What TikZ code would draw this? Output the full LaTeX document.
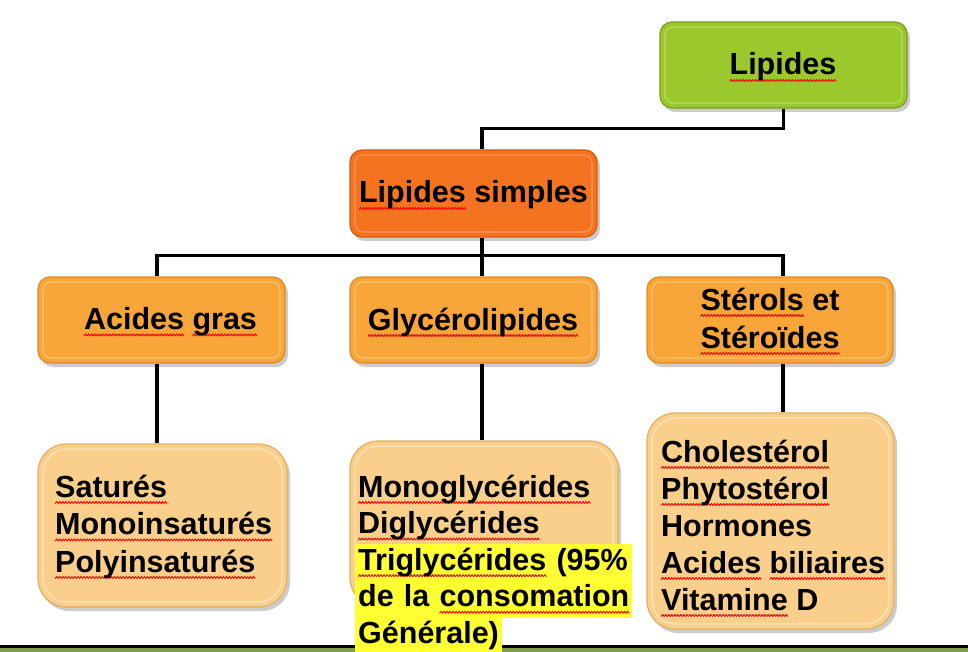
\documentclass[tikz,border=0pt]{standalone}
\usepackage{fontspec}
\setmainfont{Liberation Sans}
\usetikzlibrary{shadows}
\definecolor{cgreen}{RGB}{155,200,45}
\definecolor{cgreenD}{RGB}{118,158,28}
\definecolor{cgreenL}{RGB}{185,222,90}
\definecolor{corange}{RGB}{244,115,33}
\definecolor{corangeD}{RGB}{215,88,18}
\definecolor{corangeL}{RGB}{252,150,80}
\definecolor{cmid}{RGB}{248,165,58}
\definecolor{cmidD}{RGB}{225,138,36}
\definecolor{cmidL}{RGB}{252,195,110}
\definecolor{clight}{RGB}{250,207,140}
\definecolor{clightD}{RGB}{228,175,100}
\definecolor{clightL}{RGB}{253,228,185}
\definecolor{hlyellow}{RGB}{255,255,51}
\definecolor{stripgreen}{RGB}{128,158,78}
\newsavebox\wavebox
\newsavebox\rwtmp
\newcommand\rw[1]{\sbox\rwtmp{#1}\rlap{\raisebox{-6.5pt}[0pt][0pt]{\hbox to \wd\rwtmp{\xleaders\copy\wavebox\hfill}}}\usebox\rwtmp}
\tikzset{
  conn/.style={line width=3.5pt, black},
  bevel/.style n args={2}{path picture={\draw[#1, line width=1.2pt, rounded corners=#2]
      ([shift={(5pt,-5pt)}]path picture bounding box.north west) rectangle
      ([shift={(-5pt,5pt)}]path picture bounding box.south east);}},
  boxbase/.style={rectangle, inner sep=0pt, line width=1.2pt,
      drop shadow={opacity=0.4, shadow xshift=3pt, shadow yshift=-4pt}},
  gbox/.style={boxbase, rounded corners=12pt, fill=cgreen, draw=cgreenD, bevel={cgreenL}{8pt}},
  obox/.style={boxbase, rounded corners=12pt, fill=corange, draw=corangeD, bevel={corangeL}{8pt}},
  mbox/.style={boxbase, rounded corners=12pt, fill=cmid, draw=cmidD, bevel={cmidL}{8pt}},
  lbox/.style={boxbase, rounded corners=28pt, fill=clight, draw=clightD, bevel={clightL}{24pt}},
  txt/.style={inner sep=0pt, font=\bfseries\fontsize{30.5}{37}\selectfont, text=black},
  hl/.style={txt, fill=hlyellow, inner xsep=3pt, inner ysep=0pt, text height=26pt, text depth=11pt}
}
\begin{document}
\sbox\wavebox{\begin{pgfpicture}%
  \pgfpathrectangle{\pgfpoint{0pt}{0pt}}{\pgfpoint{3pt}{2pt}}%
  \pgfusepath{use as bounding box}%
  \pgfsetlinewidth{0.9pt}\pgfsetstrokecolor{red}%
  \pgfpathmoveto{\pgfpoint{0pt}{0pt}}%
  \pgfpathlineto{\pgfpoint{1.5pt}{2pt}}%
  \pgfpathlineto{\pgfpoint{3pt}{0pt}}%
  \pgfusepath{stroke}%
\end{pgfpicture}}%
\begin{tikzpicture}[x=1pt, y=-1pt]
\useasboundingbox (0,0) rectangle (968,652);
\fill[white] (0,0) rectangle (968,652);

% boxes
\node[gbox, minimum width=247pt, minimum height=86pt] (lip) at (783.5,65) {};
\node[obox, minimum width=247pt, minimum height=87pt] (simp) at (473.5,193.5) {};
\node[mbox, minimum width=247pt, minimum height=86pt] (acg) at (161.5,320) {};
\node[mbox, minimum width=247pt, minimum height=86pt] (gly) at (473.5,320) {};
\node[mbox, minimum width=246pt, minimum height=86pt] (ster) at (770,320) {};
\node[lbox, minimum width=249pt, minimum height=163pt] (satb) at (162.5,525.5) {};
\node[lbox, minimum width=268pt, minimum height=165pt] (glyb) at (484,523.5) {};
\node[lbox, minimum width=247pt, minimum height=216pt] (sterb) at (770.5,521) {};

% connectors
\draw[conn] (lip.south) -- ++(0,20) -| ([xshift=8.5pt]simp.north);
\draw[conn] ([xshift=8.5pt]simp.south) -- ([xshift=8.5pt]gly.north);
\draw[conn] ([xshift=-4.5pt]acg.north) -- ++(0,-21) -| ([xshift=13pt]ster.north);
\draw[conn] ([xshift=-4.5pt]acg.south) -- ([xshift=-4.5pt]acg.south |- satb.north);
\draw[conn] ([xshift=8.5pt]gly.south) -- ([xshift=8.5pt]gly.south |- glyb.north);
\draw[conn] ([xshift=13pt]ster.south) -- ([xshift=13pt]ster.south |- sterb.north);

% bottom strip
\fill[stripgreen] (0,647.5) rectangle (968,652);
\draw[line width=3pt] (0,646) -- (968,646);

% labels
\node[txt, anchor=base] (tlip) at (783,75) {\rw{Lipides}};
\node[txt, anchor=base] (tsimp) at (473.5,203) {\rw{Lipides} simples};
\node[txt, anchor=base] (tacg) at (170.5,329.5) {\rw{Acides} \rw{gras}};
\node[txt, anchor=base] (tgly) at (473,330) {\rw{Glycérolipides}};
\node[txt, anchor=base] (tster1) at (770,310) {\rw{Stérols} et};
\node[txt, anchor=base] (tster2) at (770,348) {\rw{Stéroïdes}};

\node[txt, anchor=base west] (s1) at (55,497) {\rw{Saturés}};
\node[txt, anchor=base west] (s2) at (55,534.5) {\rw{Monoinsaturés}};
\node[txt, anchor=base west] (s3) at (55,572) {\rw{Polyinsaturés}};

\node[txt, anchor=base west] (g1) at (358,497) {\rw{Monoglycérides}};
\node[txt, anchor=base west] (g2) at (358,533.6) {\rw{Diglycérides}};
\node[hl, anchor=base west, text width=271pt, align=left] (g3) at (355,570.2) {\mbox{\rw{Triglycérides} (95\%}};
\node[hl, anchor=base west, text width=271pt, align=left] (g4) at (355,606.8) {\mbox{de la \rw{consomation}}};
\node[hl, anchor=base west] (g5) at (355,643.4) {Générale)};

\node[txt, anchor=base west] (c1) at (661,462) {\rw{Cholestérol}};
\node[txt, anchor=base west] (c2) at (661,499) {\rw{Phytostérol}};
\node[txt, anchor=base west] (c3) at (661,536) {Hormones};
\node[txt, anchor=base west] (c4) at (661,573) {\rw{Acides} \rw{biliaires}};
\node[txt, anchor=base west] (c5) at (661,610) {\rw{Vitamine} D};
\end{tikzpicture}
\end{document}
